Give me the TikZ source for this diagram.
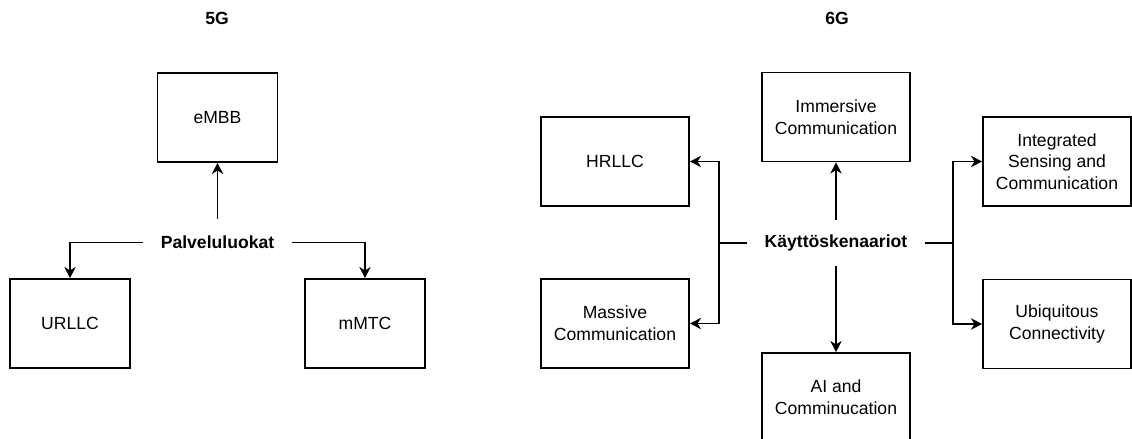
\documentclass[tikz,border=0pt]{standalone}
\usepackage{fontspec}
\setmainfont{Liberation Sans}
\usetikzlibrary{arrows.meta}
\begin{document}
\begin{tikzpicture}[x=0.025cm, y=-0.025cm, line width=1.1pt,
          every node/.style={font=\fontsize{12.5}{15.4}\selectfont, align=center},
          box/.style={draw, minimum width=3cm, minimum height=2.225cm, inner sep=2pt},
          widebox/.style={box, minimum width=3.7cm},
          hub/.style={font=\fontsize{12.5}{15.4}\selectfont\bfseries, inner xsep=0.425cm, minimum height=1.125cm},
          title/.style={font=\fontsize{12.5}{15.4}\selectfont\bfseries},
          arr/.style={-{Stealth[length=8pt, width=8pt, inset=2.5pt]}}]
          \useasboundingbox (0,0) rectangle (1132,439);
          % 5G
          \node[title] (t5g) at (217,18) {5G};
          \node[box] (embb) at (217.5,117.5) {eMBB};
          \node[hub] (pal) at (217.5,242.5) {Palveluluokat};
          \node[box] (urllc) at (70,323.5) {URLLC};
          \node[box] (mmtc) at (365,323.5) {mMTC};
          \draw[arr] (pal) -- (embb);
          \draw[arr] (pal.west) -| (urllc);
          \draw[arr] (pal.east) -| (mmtc);
          % 6G
          \node[title] (t6g) at (837,18) {6G};
          \node[hub] (kay) at (836,243) {Käyttöskenaariot};
          \node[widebox] (hrllc) at (615,161.5) {HRLLC};
          \node[widebox] (massive) at (615,323.5) {Massive\\Communication};
          \node[widebox] (immersive) at (836,117) {Immersive\\Communication};
          \node[widebox] (ai) at (836,397.5) {AI and\\Comminucation};
          \node[widebox] (isac) at (1057,161.5) {Integrated\\Sensing and\\Communication};
          \node[widebox] (ubiq) at (1057,324) {Ubiquitous\\Connectivity};
          \coordinate (lsplit) at (719,243);
          \coordinate (rsplit) at (953,243);
          \draw[arr] (kay) -- (immersive);
          \draw[arr] (kay) -- (ai);
          \draw (kay.west) -- (lsplit);
          \draw[arr] (lsplit) |- (hrllc);
          \draw[arr] (lsplit) |- (massive);
          \draw (kay.east) -- (rsplit);
          \draw[arr] (rsplit) |- (isac);
          \draw[arr] (rsplit) |- (ubiq);
        \end{tikzpicture}
\end{document}
